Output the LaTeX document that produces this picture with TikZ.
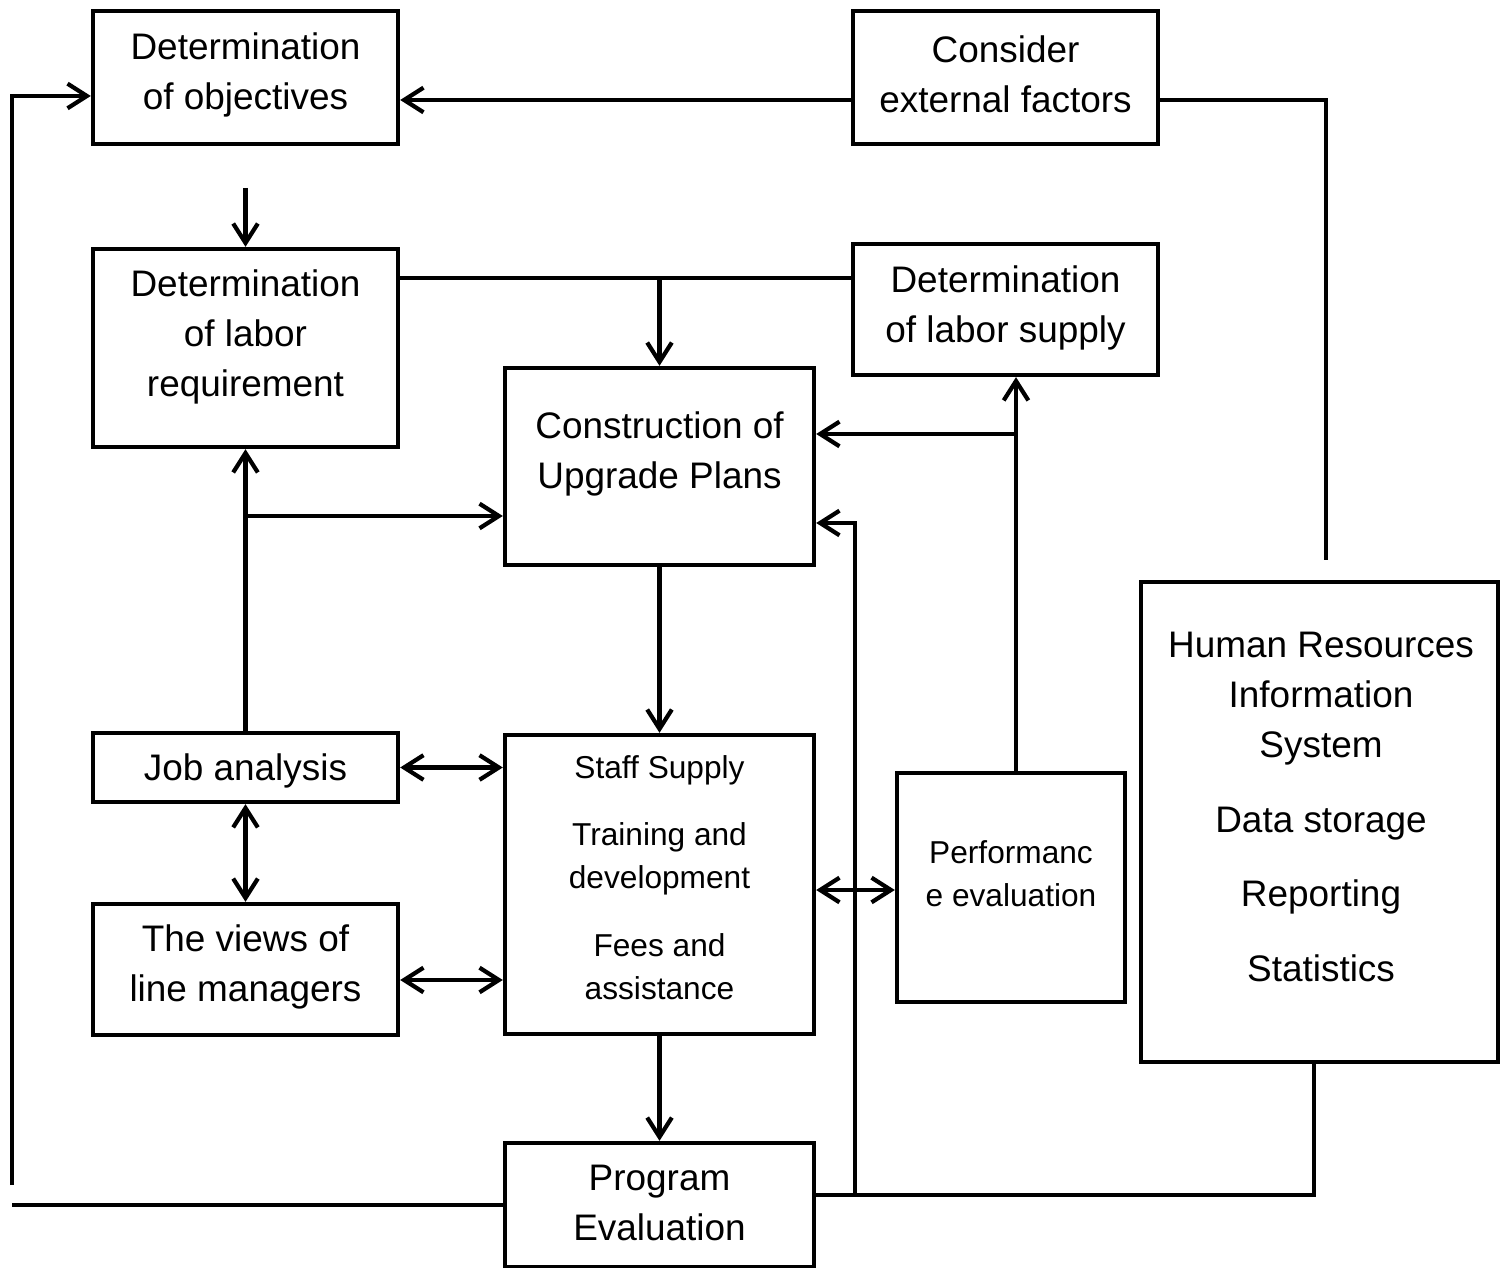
\documentclass[tikz,border=0pt]{standalone}
\usepackage{fontspec}
\setmainfont{Liberation Sans}
\usetikzlibrary{arrows.meta,calc}
\begin{document}
\begin{tikzpicture}[x=0.01cm,y=-0.01cm,
  box/.style={draw, line width=1.2pt, inner sep=0pt, rectangle},
  big/.style={font=\fontsize{10.5}{14.2}\selectfont, align=center, inner sep=0pt},
  small/.style={font=\fontsize{9}{12.2}\selectfont, align=center, inner sep=0pt},
  conn/.style={line width=1.2pt},
  arr/.style={conn, -{Straight Barb[length=5.5pt,width=7pt]}},
  darr/.style={conn, {Straight Barb[length=5.5pt,width=7pt]}-{Straight Barb[length=5.5pt,width=7pt]}}]

\useasboundingbox (0,0) rectangle (1501,1268);

% boxes
\node[box, minimum width=3.05cm, minimum height=1.33cm] (obj)   at (245.5,77.5) {};
\node[box, minimum width=3.05cm, minimum height=1.33cm] (ext)   at (1005.5,77.5) {};
\node[box, minimum width=3.05cm, minimum height=1.98cm] (req)   at (245.5,348) {};
\node[box, minimum width=3.05cm, minimum height=1.31cm] (sup)   at (1005.5,309.5) {};
\node[box, minimum width=3.09cm, minimum height=1.97cm] (con)   at (659.5,466.5) {};
\node[box, minimum width=3.05cm, minimum height=0.69cm] (job)   at (245.5,767.5) {};
\node[box, minimum width=3.05cm, minimum height=1.31cm] (views) at (245.5,969.5) {};
\node[box, minimum width=3.09cm, minimum height=2.99cm] (staff) at (659.5,884.5) {};
\node[box, minimum width=2.28cm, minimum height=2.29cm] (perf)  at (1011,887.5) {};
\node[box, minimum width=3.57cm, minimum height=4.80cm] (hris)  at (1319.5,822) {};
\node[box, minimum width=3.09cm, minimum height=1.24cm] (prog)  at (659.5,1205) {};

% texts
\node[big] (tobj)   at (245.5,75)  {Determination\\of objectives};
\node[big] (text)   at (1005.5,74) {Consider\\external factors};
\node[big] (treq)   at (245.5,337) {Determination\\of labor\\requirement};
\node[big] (tsup)   at (1005.5,308) {Determination\\of labor supply};
\node[big] (tcon)   at (659.5,454) {Construction of\\Upgrade Plans};
\node[big] (tjob)   at (245.5,771) {Job analysis};
\node[big] (tviews) at (245.5,967) {The views of\\line managers};
\node[small] (tstaff) at (659.5,877.5) {Staff Supply\\[7.1pt]Training and\\development\\[7.1pt]Fees and\\assistance};
\node[small] (tperf)  at (1011,874) {Performanc\\e evaluation};
\node[big] (thris)  at (1321,807) {Human Resources\\Information\\System\\[7.1pt]Data storage\\[7.1pt]Reporting\\[7.1pt]Statistics};
\node[big] (tprog)  at (659.5,1203) {Program\\Evaluation};

% helper coordinates
\coordinate (s1) at (245.5,188);
\coordinate (lbot) at (12,1185);
\coordinate (lend) at (12,1205);
\coordinate (hgap) at (1326,560);
\coordinate (j1) at (659.5,278);
\coordinate (j2) at (245.5,516);
\coordinate (m0) at (1016,0);
\coordinate (j3) at (1016,434);
\coordinate (j4) at (855,1195);
\coordinate (v1) at ($(views.east)+(0,10.5)$);
\coordinate (k1) at ($(staff.east)+(0,5.5)$);
\coordinate (p1) at ($(prog.east)+(0,-10)$);

% connectors
\draw[arr] ($(ext.west)+(0,22.5)$) -- ($(obj.east)+(0,22.5)$);
\draw[conn] ($(ext.east)+(0,22.5)$) -| (hgap);
\draw[arr] (lbot) |- ($(obj.west)+(0,18.5)$);
\draw[conn] (prog.west) -- (lend);
\draw[arr] (s1) -- (req.north);
\draw[conn] ($(req.east)+(0,-70)$) -- ($(sup.west)+(0,-31.5)$);
\draw[arr] (j1) -- (con.north);
\draw[arr] (job.north) -- (req.south);
\draw[arr] (j2) -- (j2 -| con.west);
\draw[arr] (con.south) -- (staff.north);
\draw[darr] (job.east) -- (job.east -| staff.west);
\draw[darr] (job.south) -- (views.north);
\draw[darr] (v1) -- (v1 -| staff.west);
\draw[darr] (k1) -- (k1 -| perf.west);
\draw[arr] (perf.north -| m0) -- (sup.south -| m0);
\draw[arr] (j3) -- (j3 -| con.east);
\draw[arr] (staff.south) -- (prog.north);
\draw[conn] (p1) -| ($(hris.south)+(-5.5,0)$);
\draw[arr] (j4) |- ($(con.east)+(0,56.5)$);
\end{tikzpicture}
\end{document}
